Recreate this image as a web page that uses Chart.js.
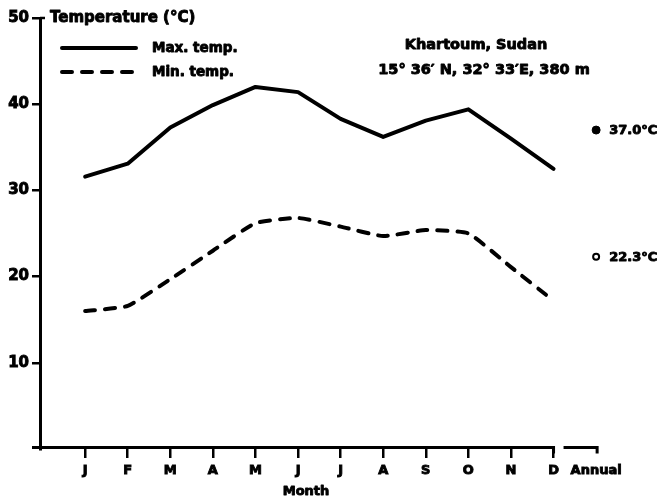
<!DOCTYPE html>
<html><head><meta charset="utf-8">
<script src="https://cdn.jsdelivr.net/npm/chart.js@4"></script>
<style>html,body{margin:0;padding:0;background:#fff}#wrap{width:672px;height:504px}</style>
</head><body><div id="wrap"><canvas id="c" width="672" height="504"></canvas></div>
<script>
const months = ['J','F','M','A','M','J','J','A','S','O','N','D'];
const maxTemp = [31.6,33.1,37.3,39.9,42.0,41.4,38.3,36.2,38.1,39.4,36.0,32.5];
const minTemp = [16.0,16.6,19.7,23.0,26.2,26.8,25.8,24.7,25.4,25.0,21.1,17.2];
const annualLabel = 'Annual';
const annualMax = 37.0;
const annualMin = 22.3;
const yTicks = [10,20,30,40,50];
const yTitle = 'Temperature (\u00B0C)';
const xTitle = 'Month';
const placeLines = ['Khartoum, Sudan', '15\u00B0 36\u2032 N, 32\u00B0 33\u2032E, 380 m'];

const FONT = '"DejaVu Sans", "Liberation Sans", sans-serif';
const annualX = months.length + 1;

function boldText(c, t, x, y) {
  c.lineWidth = 0.9; c.lineJoin = 'round';
  c.strokeText(t, x, y); c.fillText(t, x, y);
}

const annot = {
  id: 'annot',
  afterDraw(chart) {
    const c = chart.ctx, xs = chart.scales.x, ys = chart.scales.y, a = chart.chartArea;
    c.save();
    c.strokeStyle = '#000'; c.fillStyle = '#000';
    c.lineWidth = 3; c.lineCap = 'butt';
    const yb = ys.getPixelForValue(0) - 1.5;
    const xEnd = xs.getPixelForValue(months.length);
    c.beginPath(); c.moveTo(a.left - 8, yb); c.lineTo(xEnd, yb); c.lineTo(xEnd, yb + 6); c.stroke();
    const xa = xs.getPixelForValue(annualX);
    c.beginPath(); c.moveTo(xEnd + 10, yb); c.lineTo(xa + 1, yb); c.lineTo(xa + 1, yb + 6); c.stroke();
    c.lineWidth = 2.5;
    c.beginPath(); c.moveTo(a.left, ys.getPixelForValue(50)); c.lineTo(a.left + 5, ys.getPixelForValue(50)); c.stroke();

    c.textBaseline = 'middle';
    c.font = 'bold 15px ' + FONT; c.textAlign = 'left';
    boldText(c, yTitle, 50, ys.getPixelForValue(50));
    const ds = chart.data.datasets;
    [[0, 48], [1, 72]].forEach(([i, y]) => {
      const d = ds[i];
      c.lineWidth = d.borderWidth; c.lineCap = 'round';
      c.setLineDash(d.borderDash || []);
      c.beginPath(); c.moveTo(62, y); c.lineTo(136, y); c.stroke();
      c.setLineDash([]);
      c.font = 'bold 13.5px ' + FONT;
      boldText(c, d.label, 152, y);
    });
    c.font = 'bold 14.5px ' + FONT; c.textAlign = 'center';
    boldText(c, placeLines[0], 476, 45);
    boldText(c, placeLines[1], 484, 70);
    c.textAlign = 'left'; c.font = 'bold 13px ' + FONT;
    [annualMax, annualMin].forEach(v => {
      boldText(c, v.toFixed(1) + '\u00B0C', xa + 13, ys.getPixelForValue(v) + 1);
    });
    c.textAlign = 'center';
    boldText(c, xTitle, 306, 492);
    c.restore();
  }
};

new Chart(document.getElementById('c').getContext('2d'), {
  type: 'line',
  data: {
    datasets: [
      { label: 'Max. temp.', data: maxTemp.map((v, i) => ({ x: i + 1, y: v })),
        borderColor: '#000', borderWidth: 4, pointRadius: 0, fill: false, tension: 0,
        borderCapStyle: 'round', borderJoinStyle: 'round' },
      { label: 'Min. temp.', data: minTemp.map((v, i) => ({ x: i + 1, y: v })),
        borderColor: '#000', borderWidth: 4, pointRadius: 0, fill: false, tension: 0.15,
        borderDash: [10, 10], borderCapStyle: 'round', borderJoinStyle: 'round' },
      { label: 'Annual max', type: 'scatter', data: [{ x: annualX, y: annualMax }],
        pointRadius: 4, pointBackgroundColor: '#000', pointBorderColor: '#000', showLine: false },
      { label: 'Annual min', type: 'scatter', data: [{ x: annualX, y: annualMin }],
        pointRadius: 3, pointBackgroundColor: '#fff', pointBorderColor: '#000', pointBorderWidth: 2, showLine: false }
    ]
  },
  options: {
    responsive: false, animation: false, devicePixelRatio: 1,
    layout: { padding: { left: 0, right: 12, top: 18, bottom: 0 } },
    plugins: { legend: { display: false }, tooltip: { enabled: false } },
    scales: {
      x: {
        type: 'linear', min: -0.06, max: 14.5,
        afterBuildTicks: s => { s.ticks = months.map((m, i) => ({ value: i + 1 })).concat([{ value: annualX }]); },
        afterFit: s => { s.height = 55; },
        ticks: { autoSkip: false, maxRotation: 0, padding: 5, color: '#000',
          textStrokeColor: '#000', textStrokeWidth: 0.9,
          font: { family: FONT, size: 13, weight: 'bold' },
          callback: v => v === annualX ? annualLabel : months[v - 1] },
        grid: { drawOnChartArea: false, tickLength: 9, lineWidth: 2.5,
          color: ctx => (ctx.tick && ctx.tick.value === annualX) ? 'rgba(0,0,0,0)' : '#000' },
        border: { display: false }
      },
      y: {
        min: 0, max: 50,
        afterBuildTicks: s => { s.ticks = yTicks.map(v => ({ value: v })); },
        afterFit: s => { s.width = 40; },
        ticks: { padding: 3, color: '#000', textStrokeColor: '#000', textStrokeWidth: 0.9,
          font: { family: FONT, size: 15, weight: 'bold' } },
        grid: { drawOnChartArea: false, tickLength: 8, lineWidth: 2.5, color: '#000' },
        border: { display: true, color: '#000', width: 3 }
      }
    }
  },
  plugins: [annot]
});
</script></body></html>
